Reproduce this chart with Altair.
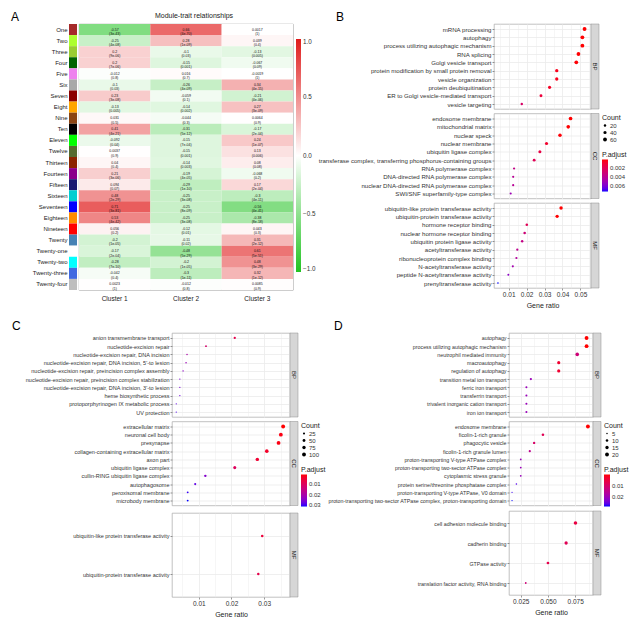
import json
import altair as alt
import pandas as pd

FONT = "Liberation Sans"

# ---------------- Panel A : module-trait heatmap ----------------
modules = ["One", "Two", "Three", "Four", "Five", "Six", "Seven", "Eight", "Nine", "Ten",
           "Eleven", "Twelve", "Thirteen", "Fourteen", "Fifteen", "Sixteen", "Seventeen",
           "Eighteen", "Nineteen", "Twenty", "Twenty-one", "Twenty-two", "Twenty-three", "Twenty-four"]
module_colors = ["#a52a2a", "#adff2f", "#9acd32", "#006400", "#ee82ee", "#a9a9a9", "#8b0000",
                 "#ffa500", "#8b4513", "#000000", "#00ff00", "#556b2f", "#8b2500", "#8b008b",
                 "#191970", "#00ced1", "#0000ff", "#ff8c00", "#ff0000", "#4682b4", "#ffffff",
                 "#00ffff", "#4169e1", "#bebebe"]
clusters = ["Cluster 1", "Cluster 2", "Cluster 3"]
cor_c1 = [-0.57, -0.25, 0.2, 0.2, -0.012, -0.1, 0.23, -0.13, 0.031, 0.41, -0.092, 0.0037,
          0.04, 0.21, 0.094, 0.48, 0.71, 0.53, 0.056, -0.2, -0.17, -0.28, -0.042, 0.0023]
p_c1 = ["3e-43", "4e-08", "9e-06", "7e-06", "0.8", "0.03", "3e-08", "0.005", "0.5", "4e-21",
        "0.04", "0.9", "0.4", "3e-06", "0.07", "2e-29", "3e-81", "4e-42", "0.2", "1e-05",
        "2e-04", "7e-10", "0.4", "1"]
cor_c2 = [0.66, 0.28, -0.1, -0.15, 0.016, -0.26, -0.059, -0.14, -0.044, -0.31, -0.15, -0.15,
          -0.14, -0.19, -0.29, -0.25, -0.25, -0.25, -0.12, -0.11, -0.48, -0.2, -0.3, -0.012]
p_c2 = ["4e-70", "1e-09", "0.03", "0.001", "0.7", "4e-09", "0.1", "0.002", "0.3", "5e-12",
        "7e-04", "0.001", "0.003", "4e-05", "1e-10", "3e-08", "8e-09", "3e-08", "0.01", "0.02",
        "5e-29", "1e-05", "1e-11", "0.8"]
cor_c3 = [0.0017, 0.039, -0.13, -0.067, -0.0019, 0.34, -0.21, 0.27, 0.0064, -0.17, 0.24, 0.13,
          0.08, -0.068, 0.17, -0.3, -0.56, -0.38, 0.043, 0.31, 0.61, 0.48, 0.32, 0.0085]
p_c3 = ["1", "0.4", "0.005", "0.09", "1", "4e-15", "4e-06", "3e-09", "0.9", "2e-04", "1e-07",
        "0.006", "0.08", "0.2", "2e-04", "4e-11", "4e-41", "8e-18", "0.3", "2e-12", "5e-51",
        "3e-29", "1e-12", "0.9"]

# ---------------- Panel B ----------------
b_terms = {
    "BP": ["mRNA processing", "autophagy", "process utilizing autophagic mechanism", "RNA splicing",
           "Golgi vesicle transport", "protein modification by small protein removal",
           "vesicle organization", "protein deubiquitination", "ER to Golgi vesicle-mediated transport",
           "vesicle targeting"],
    "CC": ["endosome membrane", "mitochondrial matrix", "nuclear speck", "nuclear membrane",
           "ubiquitin ligase complex", "transferase complex, transferring phosphorus-containing groups",
           "RNA polymerase complex", "DNA-directed RNA polymerase complex",
           "nuclear DNA-directed RNA polymerase complex", "SWI/SNF superfamily-type complex"],
    "MF": ["ubiquitin-like protein transferase activity", "ubiquitin-protein transferase activity",
           "hormone receptor binding", "nuclear hormone receptor binding",
           "ubiquitin protein ligase activity", "acetyltransferase activity",
           "ribonucleoprotein complex binding", "N-acetyltransferase activity",
           "peptide N-acetyltransferase activity", "prenyltransferase activity"],
}
b_ratio = {
    "BP": [0.0523, 0.0511, 0.0511, 0.0489, 0.0477, 0.0368, 0.0368, 0.0328, 0.0280, 0.0173],
    "CC": [0.0445, 0.0432, 0.0386, 0.0311, 0.0274, 0.0242, 0.0130, 0.0125, 0.0125, 0.0111],
    "MF": [0.0392, 0.0370, 0.0201, 0.0189, 0.0175, 0.0148, 0.0143, 0.0123, 0.0098, 0.0040],
}
b_count = {
    "BP": [60, 59, 59, 56, 55, 42, 42, 38, 32, 20],
    "CC": [54, 53, 47, 38, 34, 30, 16, 15, 15, 14],
    "MF": [45, 43, 23, 22, 20, 17, 16, 14, 11, 5],
}
b_padj = {
    "BP": [0.00001, 0.00002, 0.00002, 0.00005, 0.00008, 0.0004, 0.0004, 0.0006, 0.0012, 0.0025],
    "CC": [0.00001, 0.00002, 0.0001, 0.0008, 0.0015, 0.002, 0.0035, 0.004, 0.004, 0.005],
    "MF": [0.00001, 0.00002, 0.002, 0.003, 0.0035, 0.0038, 0.0042, 0.0048, 0.0055, 0.0072],
}

# ---------------- Panel C ----------------
c_terms = {
    "BP": ["anion transmembrane transport", "nucleotide-excision repair",
           "nucleotide-excision repair, DNA incision", "nucleotide-excision repair, DNA incision, 5'-to lesion",
           "nucleotide-excision repair, preincision complex assembly",
           "nucleotide-excision repair, preincision complex stabilization",
           "nucleotide-excision repair, DNA incision, 3'-to lesion", "heme biosynthetic process",
           "protoporphyrinogen IX metabolic process", "UV protection"],
    "CC": ["extracellular matrix", "neuronal cell body", "presynapse",
           "collagen-containing extracellular matrix", "axon part", "ubiquitin ligase complex",
           "cullin-RING ubiquitin ligase complex", "autophagosome", "peroxisomal membrane",
           "microbody membrane"],
    "MF": ["ubiquitin-like protein transferase activity", "ubiquitin-protein transferase activity"],
}
c_ratio = {
    "BP": [0.0210, 0.0122, 0.0064, 0.0061, 0.0052, 0.0042, 0.0042, 0.0042, 0.0031, 0.0031],
    "CC": [0.0358, 0.0351, 0.0344, 0.0308, 0.0279, 0.0210, 0.0120, 0.0089, 0.0066, 0.0066],
    "MF": [0.0294, 0.0282],
}
c_count = {
    "BP": [30, 17, 9, 9, 7, 6, 6, 6, 4, 4],
    "CC": [100, 98, 96, 86, 78, 59, 34, 25, 18, 18],
    "MF": [40, 38],
}
c_padj = {
    "BP": [0.008, 0.012, 0.02, 0.022, 0.024, 0.026, 0.026, 0.027, 0.028, 0.029],
    "CC": [0.001, 0.002, 0.002, 0.004, 0.005, 0.01, 0.025, 0.028, 0.03, 0.031],
    "MF": [0.006, 0.008],
}

# ---------------- Panel D ----------------
d_terms = {
    "BP": ["autophagy", "process utilizing autophagic mechanism", "neutrophil mediated immunity",
           "macroautophagy", "regulation of autophagy", "transition metal ion transport",
           "ferric iron transport", "transferrin transport", "trivalent inorganic cation transport",
           "iron ion transport"],
    "CC": ["endosome membrane", "ficolin-1-rich granule", "phagocytic vesicle",
           "ficolin-1-rich granule lumen", "proton-transporting V-type ATPase complex",
           "proton-transporting two-sector ATPase complex", "cytoplasmic stress granule",
           "protein serine/threonine phosphatase complex", "proton-transporting V-type ATPase, V0 domain",
           "proton-transporting two-sector ATPase complex, proton-transporting domain"],
    "MF": ["cell adhesion molecule binding", "cadherin binding", "GTPase activity",
           "translation factor activity, RNA binding"],
}
d_ratio = {
    "BP": [0.0855, 0.0855, 0.0769, 0.0599, 0.0599, 0.0343, 0.0302, 0.0302, 0.0302, 0.0302],
    "CC": [0.0867, 0.0454, 0.0373, 0.0333, 0.0250, 0.0250, 0.0250, 0.0210, 0.0170, 0.0170],
    "MF": [0.0753, 0.0667, 0.0500, 0.0296],
}
d_count = {
    "BP": [20, 20, 18, 14, 14, 8, 7, 7, 7, 7],
    "CC": [20, 10, 9, 8, 6, 6, 6, 5, 4, 4],
    "MF": [17, 15, 11, 6],
}
d_padj = {
    "BP": [0.0005, 0.0005, 0.012, 0.004, 0.004, 0.02, 0.02, 0.02, 0.02, 0.02],
    "CC": [0.0005, 0.008, 0.01, 0.015, 0.02, 0.02, 0.02, 0.026, 0.027, 0.028],
    "MF": [0.006, 0.008, 0.007, 0.012],
}

ONTS = ["BP", "CC", "MF"]
GRID = "#ebebeb"
TXT = "#333333"
STRIP_W = 8


def spacer():
    # invisible 1-px cell used as the left anchor of each row of the layout
    return alt.Chart(pd.DataFrame({"s": [0]})).mark_point(size=0, opacity=0).encode(
        x=alt.value(0), y=alt.value(0)
    ).properties(width=1, height=1, view=alt.ViewBackground(strokeWidth=0))


# ---------------- build panel A ----------------
HEAT_W, HEAT_H = 214, 266
heat_rows = []
for cl, cors, ps in zip(clusters, [cor_c1, cor_c2, cor_c3], [p_c1, p_c2, p_c3]):
    for m, c, p in zip(modules, cors, ps):
        heat_rows.append({"module": m, "cluster": cl, "cor": c, "label": f"{c}\n({p})"})
heat_df = pd.DataFrame(heat_rows)
mod_df = pd.DataFrame({"module": modules, "mcolor": module_colors, "k": ["m"] * len(modules)})

squares = alt.Chart(mod_df).mark_rect().encode(
    x=alt.X("k:N", axis=None),
    y=alt.Y("module:N", sort=modules,
            axis=alt.Axis(title=None, ticks=False, domain=False, labelFontSize=6.0,
                          labelColor="#222222", labelPadding=2)),
    color=alt.Color("mcolor:N", scale=None),
).properties(
    width=8, height=HEAT_H,
    title=alt.TitleParams("A", anchor="start", frame="group", dx=-58, offset=0,
                          fontSize=12, fontWeight="normal", color="black"),
    view=alt.ViewBackground(strokeWidth=0),
)

hx = alt.X("cluster:N", sort=clusters,
           axis=alt.Axis(title=None, labelAngle=0, ticks=False, domain=False, labelFontSize=6.5,
                         labelColor="#222222", labelPadding=5))
hy = alt.Y("module:N", sort=modules, axis=None)
heat_rect = alt.Chart(heat_df).mark_rect().encode(
    x=hx, y=hy,
    color=alt.Color("cor:Q",
                    scale=alt.Scale(domain=[-1, 0, 1], range=["#22c322", "#ffffff", "#e01b1b"],
                                    interpolate="rgb"),
                    legend=alt.Legend(title=" ", titleFontSize=10, titlePadding=5,
                                      orient="right", offset=3,
                                      gradientLength=233, gradientThickness=5,
                                      values=[-1, -0.5, 0, 0.5, 1], format=".1f",
                                      labelFontSize=6.3, labelColor=TXT, labelOffset=2,
                                      gradientStrokeWidth=0)),
)
heat_text = alt.Chart(heat_df).mark_text(fontSize=3.5, lineBreak="\n", lineHeight=4.3,
                                         color="#111111").encode(x=hx, y=hy, text="label:N")
heat = alt.layer(heat_rect, heat_text).properties(
    width=HEAT_W, height=HEAT_H,
    title=alt.TitleParams("Module-trait relationships", anchor="middle", frame="group", dx=8,
                          offset=5, fontSize=7, fontWeight="normal", color="#222222"),
    view=alt.ViewBackground(stroke="#999999", strokeWidth=0.7),
)
panel_a = alt.hconcat(squares, heat, spacing=1).resolve_scale(color="independent")


# ---------------- dot plot builder ----------------
def dotplot(letter, terms, ratio, count, padj, W, H, x_domain, majors, minors, maj_fmt,
            label_fs, size_vals, size_range, p_vals, p_fmt, letter_dx):
    all_counts = sum((count[o] for o in ONTS), [])
    all_p = sum((padj[o] for o in ONTS), [])
    size_scale = alt.Scale(domain=[min(all_counts), max(all_counts)], range=size_range, zero=False)
    fill_scale = alt.Scale(domain=[-max(all_p), -min(all_p)], range=["#0000ff", "#ff0000"],
                           interpolate="lab")
    grid_vals = sorted(majors + minors)
    is_major = "indexof(%s, datum.value) >= 0" % json.dumps(majors)
    panels = []
    for ont in ONTS:
        df = pd.DataFrame({"term": terms[ont], "ratio": ratio[ont], "count": count[ont],
                           "padj": padj[ont]})
        last = ont == "MF"
        mid = ont == "CC"
        xaxis = alt.Axis(
            values=grid_vals, grid=True, gridColor=GRID,
            gridWidth={"condition": {"test": is_major, "value": 0.8}, "value": 0.45},
            labels=last, ticks=last, domain=False,
            title="Gene ratio" if last else None,
            labelExpr=f"{is_major} ? format(datum.value, '{maj_fmt}') : ''",
            labelFontSize=6.5, labelColor=TXT, labelOverlap=False, labelFlush=False,
            labelPadding=1.5, tickSize=2, tickColor=TXT, tickWidth=0.5,
            tickOpacity={"condition": {"test": is_major, "value": 1}, "value": 0},
            titleFontSize=7, titleFontWeight="normal", titleColor="#222222", titlePadding=3,
        )
        yaxis = alt.Axis(title=None, labelFontSize=label_fs, labelColor=TXT, tickSize=2,
                         tickColor=TXT, tickWidth=0.5, domain=False, grid=True, gridColor=GRID,
                         gridWidth=0.8, labelLimit=500, labelPadding=1)
        if mid:
            size_leg = alt.Legend(title="Count", orient="right", offset=STRIP_W + 3,
                                  values=size_vals, symbolFillColor="black", symbolStrokeWidth=0,
                                  symbolType="circle", labelFontSize=6.0, labelColor=TXT,
                                  titleFontSize=7, titleFontWeight="normal", titleColor="#222222",
                                  labelOffset=2, rowPadding=1, titlePadding=2)
            fill_leg = alt.Legend(title="P.adjust", orient="right", offset=STRIP_W + 3,
                                  values=p_vals, labelExpr=f"format(-datum.value, '{p_fmt}')",
                                  gradientLength=32, gradientThickness=6, gradientStrokeWidth=0,
                                  labelFontSize=6.0, labelColor=TXT, titleFontSize=7,
                                  titleFontWeight="normal", titleColor="#222222", labelOffset=2,
                                  titlePadding=2)
        else:
            size_leg = None
            fill_leg = None
        pts = alt.Chart(df).transform_calculate(negp="-datum.padj").mark_circle(opacity=1).encode(
            x=alt.X("ratio:Q", scale=alt.Scale(domain=x_domain, nice=False, zero=False), axis=xaxis),
            y=alt.Y("term:N", sort=terms[ont], scale=alt.Scale(padding=0.6), axis=yaxis),
            size=alt.Size("count:Q", scale=size_scale, legend=size_leg),
            fill=alt.Fill("negp:Q", scale=fill_scale, legend=fill_leg),
        )
        sdf = pd.DataFrame({"ont": [ont]})
        strip_rect = alt.Chart(sdf).mark_rect(fill="#d6d6d6", stroke="#8c8c8c", strokeWidth=0.5).encode(
            x=alt.value(W), x2=alt.value(W + STRIP_W), y=alt.value(0), y2=alt.value(H))
        strip_text = alt.Chart(sdf).mark_text(angle=90, fontSize=6, color="#1a1a1a").encode(
            text="ont:N", x=alt.value(W + STRIP_W / 2), y=alt.value(H / 2))
        props = dict(width=W, height=H, view=alt.ViewBackground(stroke="#a6a6a6", strokeWidth=0.7))
        if ont == "BP":
            props["title"] = alt.TitleParams(letter, anchor="start", frame="group", dx=letter_dx,
                                             offset=0, fontSize=12, fontWeight="normal",
                                             color="black")
        panels.append(alt.layer(pts, strip_rect, strip_text).properties(**props))
    return alt.vconcat(*panels, spacing=2.5).resolve_scale(size="independent", fill="independent")


panel_b = dotplot("B", b_terms, b_ratio, b_count, b_padj, W=97, H=85,
                  x_domain=[0.0018, 0.0559], majors=[0.01, 0.02, 0.03, 0.04, 0.05],
                  minors=[0.005, 0.015, 0.025, 0.035, 0.045, 0.055], maj_fmt=".2f",
                  label_fs=6.1, size_vals=[20, 40, 60], size_range=[2.5, 15],
                  p_vals=[-0.006, -0.004, -0.002], p_fmt=".3f", letter_dx=-158)
panel_c = dotplot("C", c_terms, c_ratio, c_count, c_padj, W=118, H=84,
                  x_domain=[0.0018, 0.0379], majors=[0.01, 0.02, 0.03],
                  minors=[0.005, 0.015, 0.025, 0.035], maj_fmt=".2f",
                  label_fs=5.5, size_vals=[25, 50, 75, 100], size_range=[1.5, 15],
                  p_vals=[-0.03, -0.02, -0.01], p_fmt=".2f", letter_dx=-160)
panel_d = dotplot("D", d_terms, d_ratio, d_count, d_padj, W=84, H=84,
                  x_domain=[0.0142, 0.0914], majors=[0.025, 0.05, 0.075],
                  minors=[0.0375, 0.0625, 0.0875], maj_fmt=".3f",
                  label_fs=5.3, size_vals=[5, 10, 15, 20], size_range=[1.5, 15],
                  p_vals=[-0.02, -0.01], p_fmt=".2f", letter_dx=-175)

top = alt.hconcat(spacer(), panel_a, panel_b, spacing=0).resolve_scale(
    color="independent", size="independent", fill="independent")
bottom = alt.hconcat(spacer(), panel_c, panel_d, spacing=0).resolve_scale(
    size="independent", fill="independent")
chart = alt.vconcat(top, bottom, spacing=10).resolve_scale(
    color="independent", size="independent", fill="independent"
).properties(
    padding={"left": 2, "top": 2, "right": 2, "bottom": 2}
).configure(font=FONT).configure_view(strokeWidth=0)

chart.save("out.html", embed_options={"renderer": "svg", "actions": False})
